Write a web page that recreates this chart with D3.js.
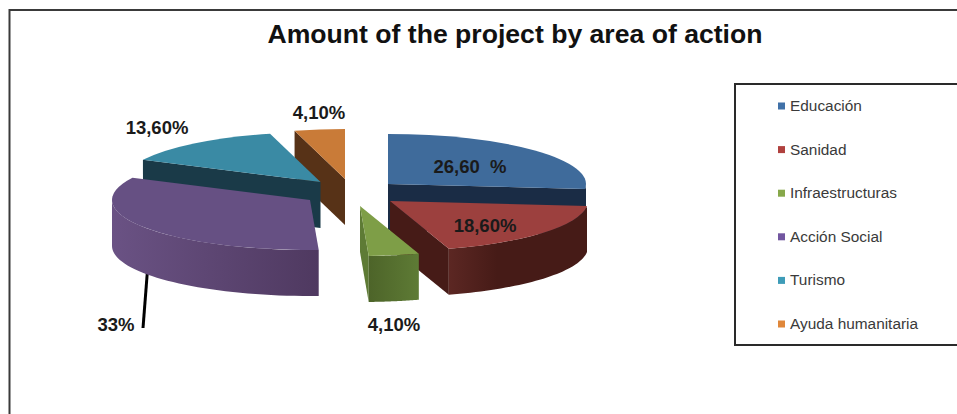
<!DOCTYPE html>
<html>
<head>
<meta charset="utf-8">
<script src="https://cdn.jsdelivr.net/npm/d3@7"></script>
<style>
html, body { margin: 0; padding: 0; background: #fff; }
svg { display: block; font-family: "Liberation Sans", Arial, sans-serif; }
</style>
</head>
<body>
<svg width="957" height="414"></svg>
<script>
// data
const categories = ["Educación", "Sanidad", "Infraestructuras", "Acción Social", "Turismo", "Ayuda humanitaria"];
const values = [26.6, 18.6, 4.1, 33, 13.6, 4.1];
const valueLabels = ["26,60  %", "18,60%", "4,10%", "33%", "13,60%", "4,10%"];

// colours per slice
const topColors = ["#3f6b9b", "#9c403e", "#7e9e47", "#665083", "#3a8aa4", "#c97b38"];
const wallColors = ["#1a2c45", "#461b17", "#4d6429", "#4f3960", "#1a3a48", "#573217"];
const wallLight = ["#1a2c45", "#5c2723", "#5e7b35", "#6a5284", "#1a3a48", "#573217"];
const legendColors = ["#4071a8", "#b0413e", "#87a84a", "#7256a0", "#3e9cb8", "#e0873a"];

// where the tip of each exploded slice sits
const tipX = [388, 390, 360, 310, 320.5, 345];
const tipY = [184, 201, 206, 200, 182, 179];
const labelX = [470, 485, 394, 116, 157, 319];
const labelY = [173, 232, 331, 331, 134, 119];
const drawOrder = [0, 5, 4, 3, 1, 2];

const rx = 198, ry = 50, depth = 46;

const svg = d3.select("svg");
const defs = svg.append("defs");

// page frame
svg.append("rect")
    .attr("x", 9.5).attr("y", 10)
    .attr("width", 960).attr("height", 430)
    .attr("fill", "none").attr("stroke", "#3a3a3a").attr("stroke-width", 2);

svg.append("text")
    .attr("x", 515).attr("y", 43)
    .attr("text-anchor", "middle")
    .attr("font-size", 26.6).attr("font-weight", "bold").attr("fill", "#111")
    .text("Amount of the project by area of action");

// pie angles
const pie = d3.pie().sort(null).startAngle(0).endAngle(2 * Math.PI);
const arcs = pie(values);
const arc = d3.arc().innerRadius(0).outerRadius(rx);

const px = (i, a) => tipX[i] + rx * Math.sin(a);
const py = (i, a) => tipY[i] - ry * Math.cos(a);

// leader line of the 33% slice, it goes behind the wall
svg.append("line")
    .attr("x1", 147.5).attr("y1", 270)
    .attr("x2", 143).attr("y2", 328)
    .attr("stroke", "#000").attr("stroke-width", 3);

const line = d3.line();

drawOrder.forEach(i => {
    const d = arcs[i];
    const g = svg.append("g");

    // flat side walls of the wedge
    const wall = a => line([
        [tipX[i], tipY[i]], [px(i, a), py(i, a)],
        [px(i, a), py(i, a) + depth], [tipX[i], tipY[i] + depth]
    ]) + "Z";
    if (Math.sin(d.startAngle) < -1e-6) {
        g.append("path").attr("d", wall(d.startAngle)).attr("fill", wallColors[i]);
    }
    if (Math.sin(d.endAngle) > 1e-6) {
        g.append("path").attr("d", wall(d.endAngle)).attr("fill", i === 2 ? wallLight[i] : wallColors[i]);
    }

    // curved outer wall, only the part that faces the viewer
    const a0 = Math.max(d.startAngle, Math.PI / 2);
    const a1 = Math.min(d.endAngle, 3 * Math.PI / 2);
    if (a1 > a0) {
        const steps = d3.range(0, 41).map(k => a0 + (a1 - a0) * k / 40);
        const pts = steps.map(a => [px(i, a), py(i, a)])
            .concat(steps.slice().reverse().map(a => [px(i, a), py(i, a) + depth]));
        const gradId = "wall" + i;
        const grad = defs.append("linearGradient").attr("id", gradId)
            .attr("gradientUnits", "userSpaceOnUse")
            .attr("x1", d3.min(pts, p => p[0])).attr("x2", d3.max(pts, p => p[0]))
            .attr("y1", 0).attr("y2", 0);
        // the red wall is lit from the left, the others fade towards the right too
        grad.append("stop").attr("offset", 0).attr("stop-color", i === 1 || i === 3 ? wallLight[i] : wallColors[i]);
        grad.append("stop").attr("offset", i === 1 ? 0.35 : 1).attr("stop-color", i === 2 ? wallLight[i] : wallColors[i]);
        g.append("path").attr("d", line(pts) + "Z").attr("fill", `url(#${gradId})`);
    }

    // top face, a circular slice squashed into the ellipse
    g.append("path")
        .attr("d", arc(d))
        .attr("transform", `translate(${tipX[i]},${tipY[i]}) scale(1,${ry / rx})`)
        .attr("fill", topColors[i]);
});

// value labels
svg.append("g").selectAll("text")
    .data(valueLabels)
    .join("text")
    .attr("x", (d, i) => labelX[i])
    .attr("y", (d, i) => labelY[i])
    .attr("text-anchor", "middle")
    .attr("font-size", 18.5).attr("font-weight", "bold").attr("fill", "#1a1a1a")
    .style("white-space", "pre")
    .text(d => d);

// legend
svg.append("rect")
    .attr("x", 735).attr("y", 84)
    .attr("width", 240).attr("height", 261)
    .attr("fill", "#fff").attr("stroke", "#2a2a2a").attr("stroke-width", 2);

const legendY = d3.scalePoint().domain(categories).range([106, 324]);
const legend = svg.append("g").selectAll("g")
    .data(categories)
    .join("g")
    .attr("transform", d => `translate(778,${legendY(d)})`);
legend.append("rect")
    .attr("x", 0).attr("y", -3.5)
    .attr("width", 7).attr("height", 7)
    .attr("fill", (d, i) => legendColors[i]);
legend.append("text")
    .attr("x", 12).attr("y", 5)
    .attr("font-size", 15.4).attr("fill", "#3a3a3a")
    .text(d => d);
</script>
</body>
</html>
